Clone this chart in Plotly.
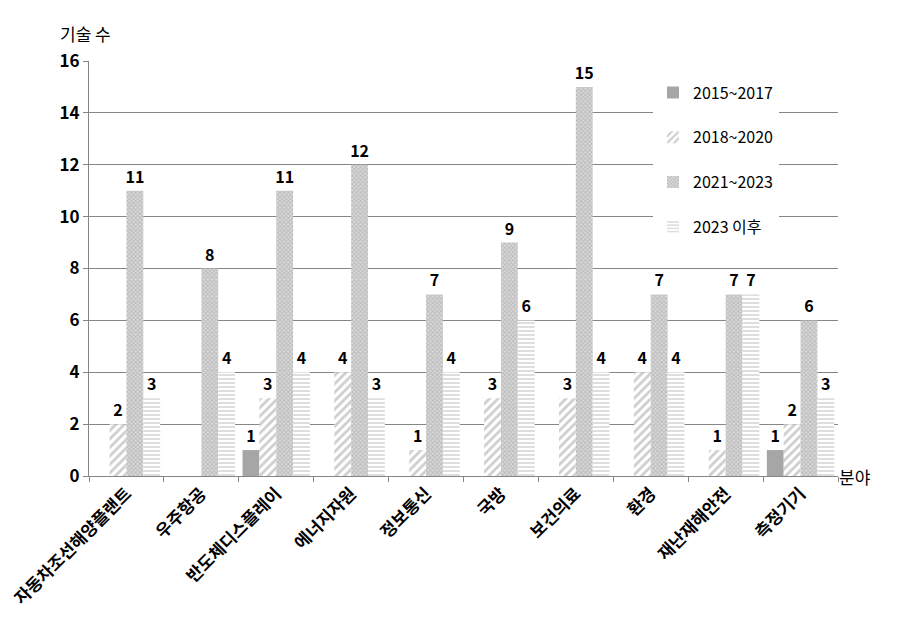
import plotly.graph_objects as go

categories = ["자동차조선해양플랜트", "우주항공", "반도체디스플레이", "에너지자원", "정보통신",
              "국방", "보건의료", "환경", "재난재해안전", "측정기기"]
series_names = ["2015~2017", "2018~2020", "2021~2023", "2023 이후"]
v2015_2017 = [0, 0, 1, 0, 0, 0, 0, 0, 0, 1]
v2018_2020 = [2, 0, 3, 4, 1, 3, 3, 4, 1, 2]
v2021_2023 = [11, 8, 11, 12, 7, 9, 15, 7, 7, 6]
v2023_after = [3, 4, 4, 3, 4, 6, 4, 4, 7, 3]
y_ticks = [0, 2, 4, 6, 8, 10, 12, 14, 16]

FONT = "Noto Sans CJK KR, Malgun Gothic, sans-serif"

styles = [
    dict(color="#A6A6A6"),
    dict(color="white", pattern=dict(shape="/", fgcolor="#9C9C9C", bgcolor="white", size=6, solidity=0.45)),
    dict(color="white", pattern=dict(shape="x", fgcolor="#999999", bgcolor="#DADADA", size=3, solidity=0.5)),
    dict(color="white", pattern=dict(shape="-", fgcolor="#A0A0A0", bgcolor="white", size=4, solidity=0.35)),
]

fig = go.Figure()
for i, (name, vals) in enumerate(zip(series_names, [v2015_2017, v2018_2020, v2021_2023, v2023_after])):
    fig.add_trace(go.Bar(
        x=categories, y=vals, name=name,
        marker=dict(line=dict(width=0), **styles[i]),
        text=[str(v) if v else "" for v in vals],
        textposition="outside",
        constraintext="none",
        cliponaxis=False,
        textfont=dict(family=FONT, size=16, color="black", weight="bold"),
        legendgroup=f"g{i}",
    ))

fig.update_layout(
    width=898, height=625,
    margin=dict(l=81, r=68, t=53, b=157, autoexpand=False),
    paper_bgcolor="white", plot_bgcolor="white",
    barmode="group", bargap=0.1, bargroupgap=0,
    font=dict(family=FONT, color="black"),
    showlegend=True,
    legend=dict(
        x=0.753, y=0.965, xanchor="left", yanchor="top",
        bgcolor="white", borderwidth=0,
        font=dict(family=FONT, size=16, color="black"),
        tracegroupgap=21,
        itemwidth=30,
    ),
    xaxis=dict(
        type="category", tickangle=-45, tickson="boundaries",
        ticks="outside", ticklen=5, tickcolor="#868686",
        showline=True, linecolor="#868686", linewidth=1,
        tickfont=dict(family=FONT, size=17, color="black", weight="bold"),
        showgrid=False,
    ),
    yaxis=dict(
        range=[0, 16], tickvals=y_ticks,
        ticks="outside", ticklen=5, tickcolor="#868686",
        showline=True, linecolor="#868686", linewidth=1,
        showgrid=True, gridcolor="#868686", gridwidth=1,
        zeroline=False,
        tickfont=dict(family=FONT, size=17, color="black", weight="bold"),
    ),
    annotations=[
        dict(text="기술 수", xref="paper", yref="paper", x=-0.041, y=1.067,
             xanchor="left", yanchor="middle", showarrow=False,
             font=dict(family=FONT, size=17, color="black")),
        dict(text="분야", xref="paper", yref="paper", x=0.998, y=0.0,
             xanchor="left", yanchor="middle", showarrow=False,
             font=dict(family=FONT, size=17, color="black")),
    ],
)

fig.write_html("out.html")
